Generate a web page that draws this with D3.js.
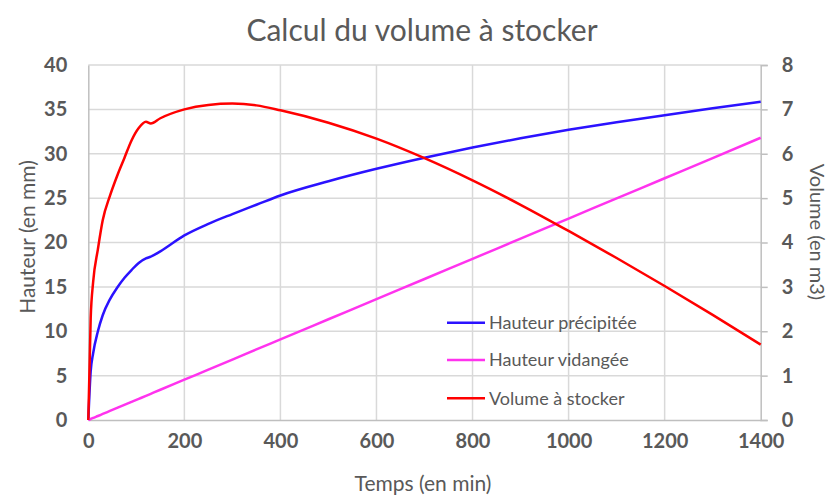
<!DOCTYPE html>
<html>
<head>
<meta charset="utf-8">
<script src="https://cdn.jsdelivr.net/npm/d3@7"></script>
<style>
  body { margin: 0; background: #fff; }
  svg { display: block; font-family: Lato, "Open Sans", sans-serif; }
</style>
</head>
<body>
<div id="app"></div>
<script>
// time steps (min)
const temps = [0, 5, 10, 20, 30, 45, 60, 75, 90, 105, 120, 130, 150, 200, 250, 300, 350, 400, 500, 600, 700, 800, 900, 1000, 1100, 1200, 1300, 1400]
// Hauteur précipitée (mm)
const hauteurPrecipitee = [0, 5.5, 7.5, 10.0, 11.8, 13.6, 14.9, 16.0, 16.9, 17.7, 18.2, 18.4, 19.0, 20.8, 22.1, 23.2, 24.25, 25.3, 26.9, 28.3, 29.55, 30.7, 31.75, 32.7, 33.55, 34.35, 35.12, 35.85]
// Hauteur vidangée (mm)
const hauteurVidangee = [0, 0.11, 0.23, 0.45, 0.68, 1.02, 1.36, 1.70, 2.04, 2.38, 2.72, 2.95, 3.41, 4.54, 5.68, 6.81, 7.95, 9.08, 11.35, 13.62, 15.89, 18.16, 20.43, 22.7, 24.97, 27.24, 29.51, 31.8]
// Volume à stocker (m3)
const volumeStocker = [0, 2.3, 3.1, 3.85, 4.5, 5.05, 5.5, 5.9, 6.3, 6.58, 6.72, 6.68, 6.8, 7.0, 7.1, 7.13, 7.09, 6.98, 6.70, 6.34, 5.90, 5.40, 4.85, 4.26, 3.65, 3.02, 2.37, 1.70]

const xTicks = [0, 200, 400, 600, 800, 1000, 1200, 1400]
const yLeftTicks = [0, 5, 10, 15, 20, 25, 30, 35, 40]
const yRightTicks = [0, 1, 2, 3, 4, 5, 6, 7, 8]

const series = [
  {name: 'Hauteur précipitée', values: hauteurPrecipitee, axis: 'left', color: '#2b12ff'},
  {name: 'Hauteur vidangée', values: hauteurVidangee, axis: 'left', color: '#ff33ee'},
  {name: 'Volume à stocker', values: volumeStocker, axis: 'right', color: '#ff0000'},
]

const width = 832
const height = 495
const margin = {left: 88.3, right: 832 - 760.7, top: 65, bottom: 495 - 420}
const textColor = '#595959'

const svg = d3.select('#app').append('svg')
  .attr('width', width)
  .attr('height', height)
  .attr('viewBox', [0, 0, width, height])

const x = d3.scaleLinear().domain([0, 1400]).range([margin.left, width - margin.right])
const yLeft = d3.scaleLinear().domain([0, 40]).range([height - margin.bottom, margin.top])
const yRight = d3.scaleLinear().domain([0, 8]).range([height - margin.bottom, margin.top])

// grid
svg.append('g').selectAll('line.h')
  .data(yLeftTicks.slice(1)).enter().append('line')
  .attr('x1', x(0)).attr('x2', x(1400))
  .attr('y1', d => yLeft(d)).attr('y2', d => yLeft(d))
  .attr('stroke', '#d9d9d9').attr('stroke-width', 1.5)
svg.append('g').selectAll('line.v')
  .data(xTicks.slice(1, -1)).enter().append('line')
  .attr('x1', d => x(d)).attr('x2', d => x(d))
  .attr('y1', yLeft(0)).attr('y2', yLeft(40))
  .attr('stroke', '#d9d9d9').attr('stroke-width', 1.5)

// axes
const axisBottom = svg.append('g').attr('transform', `translate(0,${yLeft(0)})`)
  .call(d3.axisBottom(x).tickValues(xTicks).tickFormat(d3.format('d')).tickSize(0).tickPadding(14))
const axisLeft = svg.append('g').attr('transform', `translate(${x(0)},0)`)
  .call(d3.axisLeft(yLeft).tickValues(yLeftTicks).tickSize(0).tickPadding(21))
const axisRight = svg.append('g').attr('transform', `translate(${x(1400)},0)`)
  .call(d3.axisRight(yRight).tickValues(yRightTicks).tickSize(7).tickPadding(14))

for (const a of [axisBottom, axisLeft, axisRight]) {
  a.select('.domain').attr('stroke', '#bfbfbf').attr('stroke-width', 1.5)
  a.selectAll('.tick line').attr('stroke', '#bfbfbf').attr('stroke-width', 1.5)
  a.selectAll('.tick text')
    .attr('fill', textColor)
    .style('font-size', '20px')
    .style('font-weight', 'bold')
    .style('font-family', 'Lato, sans-serif')
}

// lines
for (const s of series) {
  const yScale = s.axis === 'left' ? yLeft : yRight
  const line = d3.line()
    .x((d, i) => x(temps[i]))
    .y(d => yScale(d))
    .curve(d3.curveMonotoneX)
  svg.append('path')
    .datum(s.values)
    .attr('fill', 'none')
    .attr('stroke', s.color)
    .attr('stroke-width', 2.5)
    .attr('d', line)
}

// title
svg.append('text')
  .attr('x', 422).attr('y', 41)
  .attr('text-anchor', 'middle')
  .attr('fill', textColor)
  .style('font-size', '30px')
  .text('Calcul du volume à stocker')

// axis titles
svg.append('text')
  .attr('x', 423).attr('y', 491)
  .attr('text-anchor', 'middle')
  .attr('fill', textColor)
  .style('font-size', '21px')
  .text('Temps (en min)')
svg.append('text')
  .attr('transform', 'translate(35,237) rotate(-90)')
  .attr('text-anchor', 'middle')
  .attr('fill', textColor)
  .style('font-size', '21px')
  .text('Hauteur (en mm)')
svg.append('text')
  .attr('transform', 'translate(810,232) rotate(90)')
  .attr('text-anchor', 'middle')
  .attr('fill', textColor)
  .style('font-size', '20px')
  .text('Volume (en m3)')

// legend
const legend = svg.append('g')
const legendY = [322.7, 360, 398.3]
series.forEach((s, i) => {
  legend.append('line')
    .attr('x1', 447).attr('x2', 485)
    .attr('y1', legendY[i]).attr('y2', legendY[i])
    .attr('stroke', s.color).attr('stroke-width', 2.5)
  legend.append('text')
    .attr('x', 489).attr('y', legendY[i])
    .attr('dy', '0.35em')
    .attr('fill', textColor)
    .style('font-size', '18px')
    .text(s.name)
})
</script>
</body>
</html>
